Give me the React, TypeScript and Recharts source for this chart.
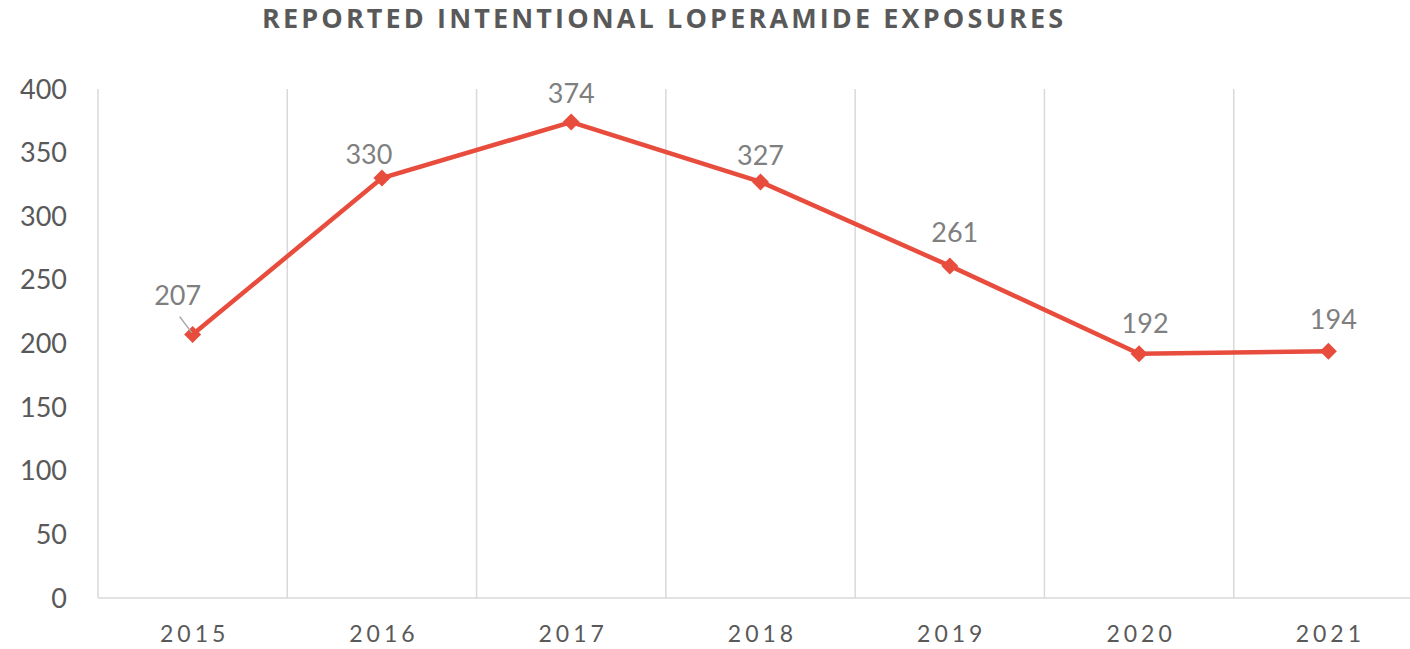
import { LineChart, Line, XAxis, YAxis, CartesianGrid, LabelList } from "recharts";

const TITLE = "REPORTED INTENTIONAL LOPERAMIDE EXPOSURES";
const years = ["2015", "2016", "2017", "2018", "2019", "2020", "2021"];
const exposures = [207, 330, 374, 327, 261, 192, 194];
const yTicks = [0, 50, 100, 150, 200, 250, 300, 350, 400];

// label nudges (Excel moved a couple of them around)
const labelDx = [-15, -13, 0, 0, 5, 6, 5];
const labelDy = [-10, 6, 1, 3, -4, -1, -2];

const RED = "#E84C3D";
const GRID = "#d9d9d9";
const FONT = "Lato, 'Open Sans', sans-serif";

const data = years.map((y, i) => ({ year: y, slot: i + 0.5, value: exposures[i] }));

function Diamond(props: any) {
  const { cx, cy } = props;
  if (cx == null || cy == null) return null;
  const r = 8.5;
  return (
    <path
      d={`M${cx},${cy - r} L${cx + r},${cy} L${cx},${cy + r} L${cx - r},${cy} Z`}
      fill={RED}
      stroke="none"
    />
  );
}

function ValueLabel(props: any) {
  const { x, y, value, index } = props;
  const i = index ?? 0;
  const lx = x + (labelDx[i] ?? 0);
  const ly = y - 20 + (labelDy[i] ?? 0);
  return (
    <g>
      {i === 0 && (
        <line x1={x - 13} y1={y - 18} x2={x - 1} y2={y - 2} stroke="#a6a6a6" strokeWidth={1.5} />
      )}
      <text x={lx} y={ly} textAnchor="middle" fontSize={27} fill="#7f7f7f" fontFamily={FONT}>
        {value}
      </text>
    </g>
  );
}

export default function App() {
  return (
    <div
      style={{
        position: "absolute",
        left: 0,
        top: 0,
        width: 1410,
        height: 649,
        overflow: "hidden",
        background: "#fff",
        fontFamily: FONT,
      }}
    >
      <svg width={1410} height={45} style={{ position: "absolute", left: 0, top: 0 }}>
        <text
          x={262}
          y={28}
          fontSize={27}
          fontWeight={700}
          fill="#595959"
          fontFamily="'Open Sans', sans-serif"
          textLength={801}
          lengthAdjust="spacing"
        >
          {TITLE}
        </text>
      </svg>
      <LineChart
        width={1430}
        height={649}
        data={data}
        margin={{ top: 89, right: 7, left: 0, bottom: 0 }}
      >
        <CartesianGrid
          horizontal={false}
          stroke={GRID}
          strokeWidth={1.5}
          verticalCoordinatesGenerator={({ offset }: any) =>
            years.concat([""]).map((_, i) => offset.left + (offset.width * i) / years.length)
          }
        />
        <XAxis
          type="number"
          dataKey="slot"
          domain={[0, years.length]}
          ticks={data.map((d) => d.slot)}
          tickFormatter={(v) => years[Math.round(v - 0.5)]}
          height={51}
          axisLine={{ stroke: GRID, strokeWidth: 1.5 }}
          tickLine={false}
          tickSize={0}
          tickMargin={28}
          tick={{ fontSize: 23, fill: "#595959", fontFamily: FONT, letterSpacing: 4, dx: 2 }}
        />
        <YAxis
          domain={[0, 400]}
          ticks={yTicks}
          width={98}
          axisLine={false}
          tickLine={false}
          tickSize={0}
          tickMargin={31}
          tick={{ fontSize: 27, fill: "#595959", fontFamily: FONT }}
        />
        <Line
          type="linear"
          dataKey="value"
          stroke={RED}
          strokeWidth={4.5}
          dot={<Diamond />}
          activeDot={false}
          isAnimationActive={false}
        >
          <LabelList dataKey="value" content={<ValueLabel />} />
        </Line>
      </LineChart>
    </div>
  );
}
